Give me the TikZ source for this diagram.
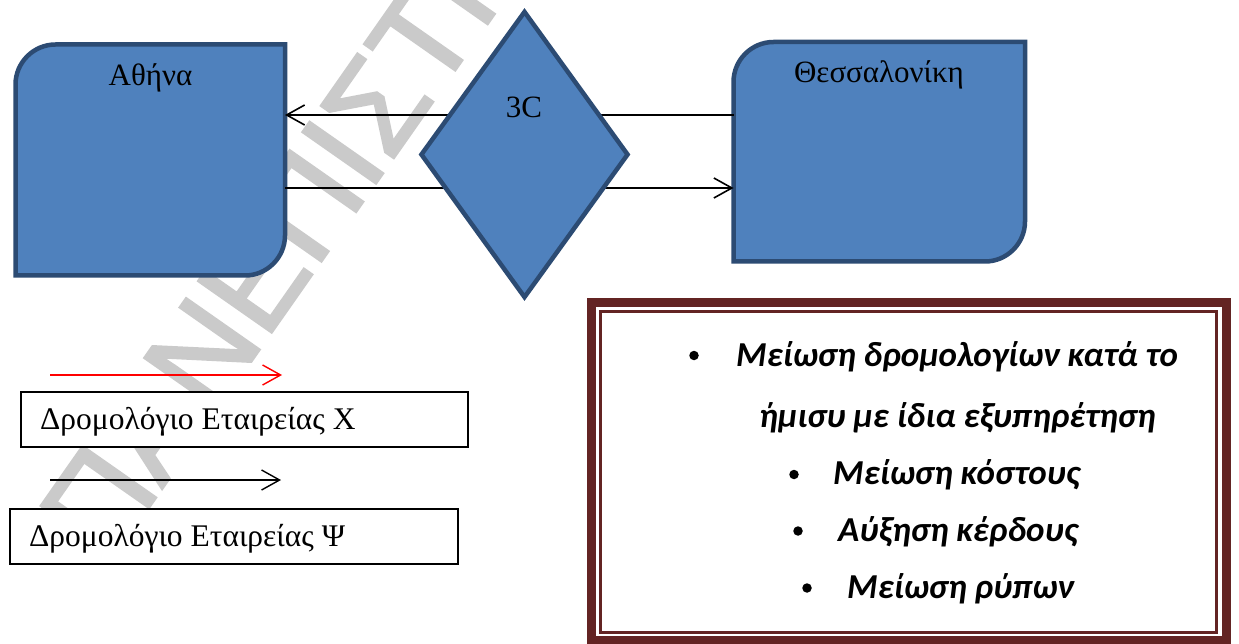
\documentclass[tikz,border=0pt]{standalone}
\usepackage{fontspec}
\setmainfont{Liberation Serif}
\newfontfamily\listfont{Carlito}
\newfontfamily\markfont[FakeBold=2]{Liberation Sans}
\usetikzlibrary{shapes.geometric,arrows.meta}

\definecolor{shapefill}{HTML}{4F81BD}
\definecolor{shapeline}{HTML}{2C4B73}
\definecolor{framered}{HTML}{632423}
\definecolor{markgray}{HTML}{CACACA}

% box with two rounded corners (top left, bottom right)
\newcommand\citypath[5]{%
  (#1,#4) -- (#1,#2+#5)
  .. controls (#1,#2+0.45*#5) and (#1+0.45*#5,#2) .. (#1+#5,#2)
  -- (#3,#2) -- (#3,#4-#5)
  .. controls (#3,#4-0.45*#5) and (#3-0.45*#5,#4) .. (#3-#5,#4)
  -- cycle}

\begin{document}
\begin{tikzpicture}[x=1pt,y=-1pt,
  cityshape/.style={fill=shapefill,draw=shapeline,line width=4.5pt,line join=miter},
  area/.style={inner sep=0pt,outer sep=0pt,draw=none},
  citylabel/.style={font=\fontsize{31}{36}\selectfont,inner sep=0pt,anchor=base},
  link/.style={line width=1.6pt,-{Straight Barb[length=18pt,width=20pt]}},
  keybox/.style={draw=black,line width=2pt,fill=white,inner sep=0pt,anchor=north west},
  keytext/.style={font=\fontsize{31.5}{36}\selectfont,inner sep=0pt,anchor=base west},
  keyarrow/.style={line width=1.4pt,-{Straight Barb[length=18pt,width=20pt]}},
  listtext/.style={font=\listfont\bfseries\itshape\fontsize{35}{40}\selectfont,inner sep=0pt,anchor=base west},
  dot/.style={circle,fill=black,inner sep=0pt,minimum size=9.5pt}]

\useasboundingbox (0,0) rectangle (1239,644);
\clip (0,0) rectangle (1239,644);
\fill[white] (0,0) rectangle (1239,644);

% background lettering
\node[font=\markfont\fontsize{130}{130}\selectfont,text=markgray,rotate=55,
      anchor=base west,inner sep=0pt] (mark) at (108,566) {ΠΑΝΕΠΙΣΤΗΜΙΟ};

% city boxes
\node[area,minimum width=269.5pt,minimum height=231pt] (athens) at (150.25,160) {};
\node[area,minimum width=291.5pt,minimum height=219.5pt] (thess) at (879.25,151.75) {};
\draw[cityshape] \citypath{15.5}{44.5}{285}{275.5}{40};
\draw[cityshape] \citypath{733.5}{42}{1025}{261.5}{40};
\node[citylabel] (athlabel) at (150.5,86) {Αθήνα};
\node[citylabel] (thesslabel) at (879,83) {Θεσσαλονίκη};

% routes between the cities
\coordinate (upper) at (0,115);
\coordinate (lower) at (0,188);
\draw[link] (thess.west |- upper) -- (athens.east |- upper);
\draw[link] (athens.east |- lower) -- (thess.west |- lower);

% hub
\node[diamond,fill=shapefill,draw=shapeline,line width=4.5pt,inner sep=0pt,
      minimum width=208pt,minimum height=287pt] (hub) at (524.5,154.5) {};
\node[citylabel] (hublabel) at (524,118) {3C};

% legend
\coordinate (rx1) at (50,375);
\coordinate (rx2) at (282,375);
\draw[keyarrow,red] (rx1) -- (rx2);
\node[keybox,minimum width=447pt,minimum height=55pt] (keyx) at (20,391) {};
\node[keytext] (keyxtext) at (40,429) {Δρομολόγιο Εταιρείας Χ};
\coordinate (ry1) at (50,480);
\coordinate (ry2) at (281,480);
\draw[keyarrow] (ry1) -- (ry2);
\node[keybox,minimum width=448pt,minimum height=55pt] (keyy) at (9,508) {};
\node[keytext] (keyytext) at (29,546) {Δρομολόγιο Εταιρείας Ψ};

% benefits frame
\draw[framered,line width=9pt] (591,302) rectangle (1226.5,640.5);
\draw[framered,line width=3pt] (600.5,311.5) rectangle (1216.5,632.5);
\node[dot] (b1) at (694,355.5) {};
\node[listtext] (t1) at (736,366) {Μείωση δρομολογίων κατά το};
\node[listtext] (t1b) at (759,427) {ήμισυ με ίδια εξυπηρέτηση};
\node[dot] (b2) at (794,474.5) {};
\node[listtext] (t2) at (833,484) {Μείωση κόστους};
\node[dot] (b3) at (798,531) {};
\node[listtext] (t3) at (838,541) {Αύξηση κέρδους};
\node[dot] (b4) at (807,588) {};
\node[listtext] (t4) at (847,598) {Μείωση ρύπων};
\end{tikzpicture}
\end{document}
